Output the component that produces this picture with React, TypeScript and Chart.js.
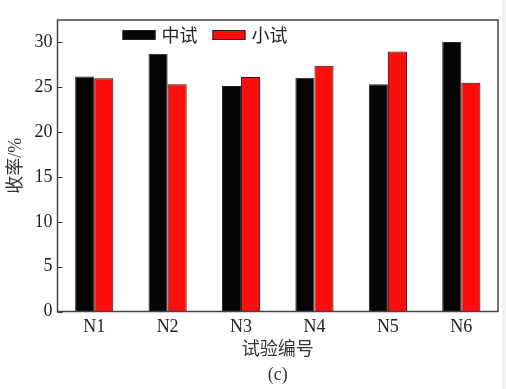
import React, { useEffect, useRef } from "react";
import { Chart, registerables } from "chart.js";

Chart.register(...registerables);

const categories = ["N1", "N2", "N3", "N4", "N5", "N6"];
const pilotValues = [26.2, 28.75, 25.15, 26.05, 25.33, 30.05]; // 中试
const smallValues = [26.0, 25.33, 26.15, 27.4, 29.0, 25.5]; // 小试
const seriesLabels = ["中试", "小试"];
const yTitle = "收率/%";
const xTitle = ["试验编号", "(c)"];

const SERIF = "'Liberation Serif', 'Noto Sans CJK SC', serif";

const decorPlugin = {
  id: "decor",
  beforeDraw(chart: any) {
    const ctx = chart.ctx;
    ctx.save();
    ctx.fillStyle = "#ffffff";
    ctx.fillRect(0, 0, chart.width, chart.height);
    ctx.fillStyle = "#eef3fb";
    ctx.fillRect(502, 0, chart.width - 502, chart.height);
    ctx.restore();
  },
  afterDraw(chart: any) {
    const ctx = chart.ctx;
    const { left, right, top, bottom } = chart.chartArea;
    const y = chart.scales.y;
    ctx.save();
    // frame
    ctx.strokeStyle = "#444";
    ctx.lineWidth = 1.5;
    ctx.strokeRect(left, top, right - left, bottom - top);
    // inward tick marks
    ctx.lineWidth = 1;
    ctx.strokeStyle = "#333";
    y.ticks.forEach((t: any) => {
      const py = Math.round(y.getPixelForValue(t.value)) + 0.5;
      ctx.beginPath();
      ctx.moveTo(left, py);
      ctx.lineTo(left + 5, py);
      ctx.stroke();
    });
    // legend inside plot
    const ds = chart.data.datasets;
    let x = left + 65;
    const cy = top + 15;
    ctx.font = "18px 'Noto Sans CJK SC', sans-serif";
    ctx.textBaseline = "middle";
    ds.forEach((d: any, i: number) => {
      ctx.fillStyle = d.backgroundColor;
      ctx.fillRect(x, cy - 5, 33, 10);
      ctx.strokeStyle = "#222";
      ctx.lineWidth = 1;
      ctx.strokeRect(x + 0.5, cy - 5 + 0.5, 32, 9);
      ctx.fillStyle = "#222";
      ctx.fillText(d.label, x + 39, cy);
      x += 39 + ctx.measureText(d.label).width + 15;
    });
    ctx.restore();
  },
};

export default function App() {
  const ref = useRef<HTMLCanvasElement>(null);
  useEffect(() => {
    if (!ref.current) return;
    const chart = new Chart(ref.current, {
      type: "bar",
      data: {
        labels: categories,
        datasets: [
          {
            label: seriesLabels[0],
            data: pilotValues,
            backgroundColor: "#050505",
            borderColor: "#222",
            borderWidth: 1,
          },
          {
            label: seriesLabels[1],
            data: smallValues,
            backgroundColor: "#ff0d0d",
            borderColor: "#3a0a0a",
            borderWidth: 1,
          },
        ],
      },
      options: {
        responsive: false,
        animation: false,
        layout: { padding: { top: 20, right: 8, left: 0, bottom: 0 } },
        datasets: { bar: { categoryPercentage: 0.52, barPercentage: 1.0 } } as any,
        plugins: { legend: { display: false }, tooltip: { enabled: false } },
        scales: {
          x: {
            grid: { display: false, drawTicks: false },
            border: { display: false },
            ticks: {
              padding: 5,
              color: "#222",
              font: { family: SERIF, size: 18 },
            },
            title: {
              display: true,
              text: xTitle,
              color: "#333",
              font: { family: SERIF, size: 18, lineHeight: 25 / 18 },
              padding: { top: 0, bottom: 1.5 },
            },
            afterFit(scale: any) {
              scale.height = 77.5;
            },
          },
          y: {
            min: 0,
            max: 32.5,
            grid: { display: false, drawTicks: false },
            border: { display: false },
            ticks: {
              stepSize: 5,
              padding: 5,
              color: "#222",
              font: { family: SERIF, size: 18 },
            },
            afterBuildTicks(scale: any) {
              scale.ticks = scale.ticks.filter((t: any) => t.value % 5 === 0);
            },
            title: {
              display: true,
              text: yTitle,
              color: "#333",
              font: { family: SERIF, size: 18 },
              padding: { top: 5, bottom: 0 },
            },
            afterFit(scale: any) {
              scale.width = 57.5;
            },
          },
        },
      },
      plugins: [decorPlugin],
    });
    return () => chart.destroy();
  }, []);
  return (
    <div style={{ position: "absolute", left: 0, top: 0, width: 506, height: 389 }}>
      <canvas ref={ref} width={506} height={389} />
    </div>
  );
}
